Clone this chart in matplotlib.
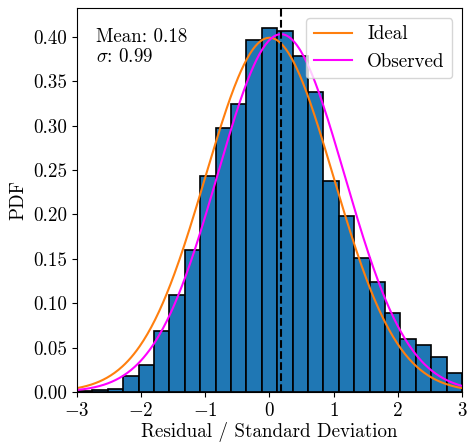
import numpy as np
import matplotlib
matplotlib.use("Agg")
import matplotlib.pyplot as plt

# density per bin (25 bins from -3 to 3)
bin_lo = -3.0
bin_hi = 3.0
n_bins = 25
density = [0.001, 0.002, 0.004, 0.018, 0.031, 0.069, 0.109, 0.160, 0.243,
           0.297, 0.324, 0.396, 0.410, 0.407, 0.378, 0.338, 0.238, 0.198,
           0.151, 0.124, 0.089, 0.060, 0.053, 0.040, 0.022]
obs_mean = 0.18
obs_sigma = 0.99

plt.rcParams['font.family'] = 'serif'
plt.rcParams['font.serif'] = ['cmr10']
plt.rcParams['mathtext.fontset'] = 'cm'
plt.rcParams['axes.formatter.use_mathtext'] = True
plt.rcParams['font.size'] = 13.7

def gauss(x, mu, s):
    return np.exp(-0.5 * ((x - mu) / s) ** 2) / (s * np.sqrt(2 * np.pi))

fig = plt.figure(figsize=(4.68, 4.42), dpi=100)
ax = fig.add_axes([0.1645, 0.113, 0.8225, 0.868])

edges = np.linspace(bin_lo, bin_hi, n_bins + 1)
ax.bar(edges[:-1], density, width=np.diff(edges), align='edge',
       color='tab:blue', edgecolor='black', linewidth=1.2)

x = np.linspace(bin_lo, bin_hi, 400)
ax.plot(x, gauss(x, 0, 1), color='#ff7f0e', lw=1.5, label='Ideal')
ax.plot(x, gauss(x, obs_mean, obs_sigma), color='magenta', lw=1.5, label='Observed')
ax.axvline(obs_mean, color='black', ls='--', lw=1.5)

ax.text(0.05, 0.95, 'Mean: %.2f\n$\\sigma$: %.2f' % (obs_mean, obs_sigma),
        transform=ax.transAxes, va='top', ha='left')

ax.set_xlim(bin_lo, bin_hi)
ax.set_ylim(0, 0.432)
ax.set_yticks(np.arange(0, 0.41, 0.05))
ax.yaxis.set_major_formatter(matplotlib.ticker.FormatStrFormatter('%.2f'))
ax.set_xlabel('Residual / Standard Deviation', labelpad=1.5)
ax.set_ylabel('PDF')
ax.legend(loc='upper right')

fig.savefig('out.png', dpi=100)
